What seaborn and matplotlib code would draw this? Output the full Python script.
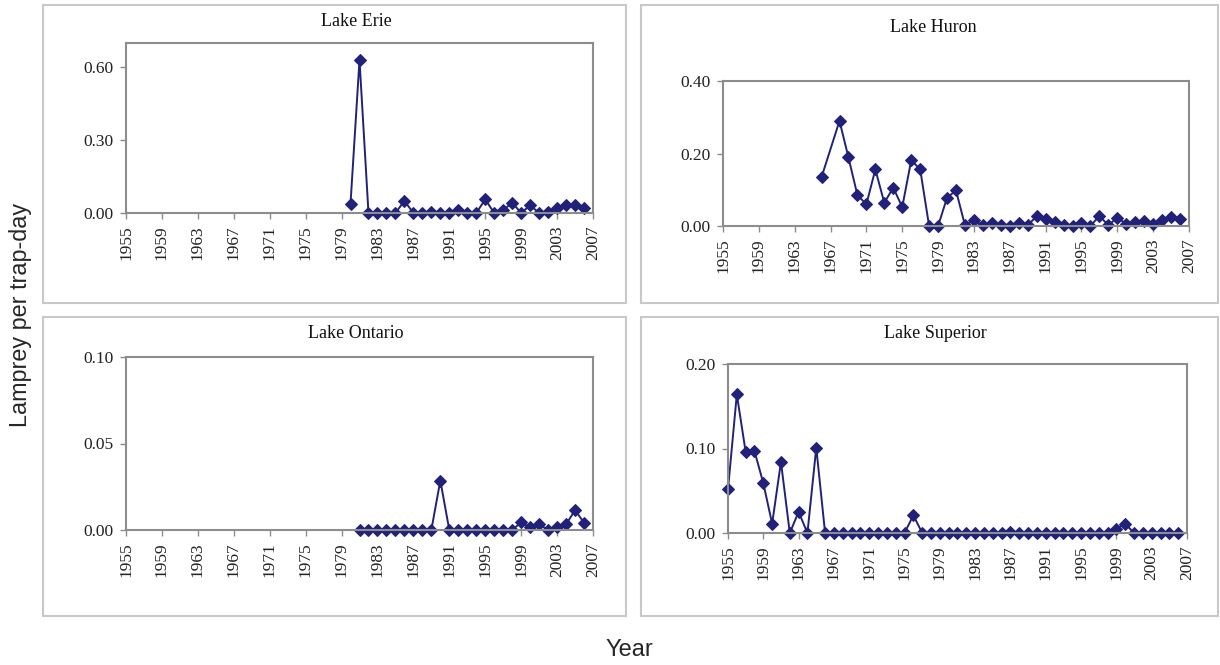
import matplotlib
matplotlib.use("Agg")
import matplotlib.pyplot as plt
from matplotlib.patches import Rectangle
import pandas as pd
import seaborn as sns

# Lamprey per trap-day
erie_years = [1980, 1981, 1982, 1983, 1984, 1985, 1986, 1987, 1988, 1989,
              1990, 1991, 1992, 1993, 1994, 1995, 1996, 1997, 1998, 1999,
              2000, 2001, 2002, 2003, 2004, 2005, 2006]
erie_vals = [0.039, 0.63, 0.0, 0.0, 0.0, 0.0, 0.05, 0.0, 0.0, 0.004,
             0.0, 0.0, 0.011, 0.0, 0.0, 0.056, 0.0, 0.011, 0.043, 0.0,
             0.032, 0.0, 0.004, 0.022, 0.032, 0.032, 0.021]

huron_years = [1966, 1968, 1969, 1970, 1971, 1972, 1973, 1974, 1975, 1976,
               1977, 1978, 1979, 1980, 1981, 1982, 1983, 1984, 1985, 1986,
               1987, 1988, 1989, 1990, 1991, 1992, 1993, 1994, 1995, 1996,
               1997, 1998, 1999, 2000, 2001, 2002, 2003, 2004, 2005, 2006]
huron_vals = [0.135, 0.29, 0.189, 0.085, 0.06, 0.156, 0.064, 0.106, 0.052, 0.181,
              0.157, 0.0, 0.0, 0.078, 0.098, 0.002, 0.016, 0.002, 0.009, 0.002,
              0.0, 0.009, 0.002, 0.027, 0.018, 0.01, 0.002, 0.0, 0.007, 0.0,
              0.028, 0.002, 0.023, 0.006, 0.01, 0.014, 0.006, 0.016, 0.025, 0.018]

ontario_years = [1981, 1982, 1983, 1984, 1985, 1986, 1987, 1988, 1989, 1990,
                 1991, 1992, 1993, 1994, 1995, 1996, 1997, 1998, 1999, 2000,
                 2001, 2002, 2003, 2004, 2005, 2006]
ontario_vals = [0.0, 0.0, 0.0, 0.0, 0.0, 0.0, 0.0, 0.0, 0.0, 0.0286,
                0.0, 0.0, 0.0, 0.0, 0.0, 0.0, 0.0, 0.0, 0.0044, 0.0015,
                0.0034, 0.0, 0.0015, 0.0032, 0.0115, 0.0042]

superior_years = [1955, 1956, 1957, 1958, 1959, 1960, 1961, 1962, 1963, 1964,
                  1965, 1966, 1967, 1968, 1969, 1970, 1971, 1972, 1973, 1974,
                  1975, 1976, 1977, 1978, 1979, 1980, 1981, 1982, 1983, 1984,
                  1985, 1986, 1987, 1988, 1989, 1990, 1991, 1992, 1993, 1994,
                  1995, 1996, 1997, 1998, 1999, 2000, 2001, 2002, 2003, 2004,
                  2005, 2006]
superior_vals = [0.052, 0.164, 0.096, 0.097, 0.059, 0.011, 0.084, 0.0, 0.025, 0.0,
                 0.101, 0.0, 0.0, 0.0, 0.0, 0.0, 0.0, 0.0, 0.0, 0.0,
                 0.0, 0.021, 0.0, 0.0, 0.0, 0.0, 0.0, 0.0, 0.0, 0.0,
                 0.0, 0.0, 0.0015, 0.0, 0.0, 0.0, 0.0, 0.0, 0.0, 0.0,
                 0.0, 0.0, 0.0, 0.0, 0.005, 0.011, 0.0, 0.0, 0.0, 0.0,
                 0.0, 0.0]

lakes = ["Lake Erie", "Lake Huron", "Lake Ontario", "Lake Superior"]
y_max = [0.7, 0.4, 0.1, 0.2]
y_ticks = [[0.0, 0.3, 0.6], [0.0, 0.2, 0.4], [0.0, 0.05, 0.1], [0.0, 0.1, 0.2]]
year_ticks = list(range(1955, 2008, 4))

series = [(erie_years, erie_vals), (huron_years, huron_vals),
          (ontario_years, ontario_vals), (superior_years, superior_vals)]

sns.set_style("white")
plt.rcParams["font.family"] = ["Liberation Serif", "DejaVu Serif"]

W, H = 1220, 665
fig = plt.figure(figsize=(W / 100, H / 100), dpi=100)


def fbox(left, top, right, bottom):
    return [left / W, 1 - bottom / H, (right - left) / W, (bottom - top) / H]


# outer chart boxes (pixel coords)
panel_boxes = [(43, 5, 626, 303), (641, 5, 1218, 303),
               (43, 317, 626, 616), (641, 317, 1218, 616)]
plot_boxes = [(126, 43, 593, 213), (723, 81, 1189, 226),
              (126, 357, 593, 530), (728, 364, 1187, 533)]
title_pos = [(356, 22), (933, 28), (356, 334), (935, 334)]

line_color = "#21217a"

for i, lake in enumerate(lakes):
    l, t, r, b = panel_boxes[i]
    fig.patches.append(Rectangle((l / W, 1 - b / H), (r - l) / W, (b - t) / H,
                                 transform=fig.transFigure, fill=False,
                                 edgecolor="#c8c8c8", linewidth=1.5))
    ax = fig.add_axes(fbox(*plot_boxes[i]))
    df = pd.DataFrame({"Year": series[i][0], "Value": series[i][1]})
    sns.lineplot(data=df, x="Year", y="Value", ax=ax, color=line_color,
                 marker="D", markersize=6.5, markeredgecolor=line_color,
                 linewidth=1.4)
    for ln in ax.lines:
        ln.set_clip_on(False)
    ax.set_xlim(1955, 2007)
    ax.set_ylim(0, y_max[i])
    ax.set_xticks(year_ticks)
    ax.set_xticklabels([str(y) for y in year_ticks], rotation=90)
    ax.set_yticks(y_ticks[i])
    ax.set_yticklabels(["%.2f" % v for v in y_ticks[i]])
    ax.set_xlabel("")
    ax.set_ylabel("")
    for s in ax.spines.values():
        s.set_color("#8c8c8c")
        s.set_linewidth(1.5)
    ax.tick_params(axis="both", which="major", length=4, width=1,
                   color="#8c8c8c", labelsize=12.5, labelcolor="#222222",
                   direction="out", pad=5)
    ax.tick_params(axis="x", bottom=True)
    ax.tick_params(axis="y", left=True)
    tx, ty = title_pos[i]
    fig.text(tx / W, 1 - ty / H, lake, ha="center", va="center",
             fontsize=13, color="#111111")

fig.text(21 / W, 1 - 315 / H, "Lamprey per trap-day", rotation=90,
         ha="center", va="center", fontsize=16.8, family="Liberation Sans")
fig.text(629 / W, 1 - 650 / H, "Year", ha="center", va="center",
         fontsize=17, family="Liberation Sans")

fig.savefig("out.png", dpi=100)
